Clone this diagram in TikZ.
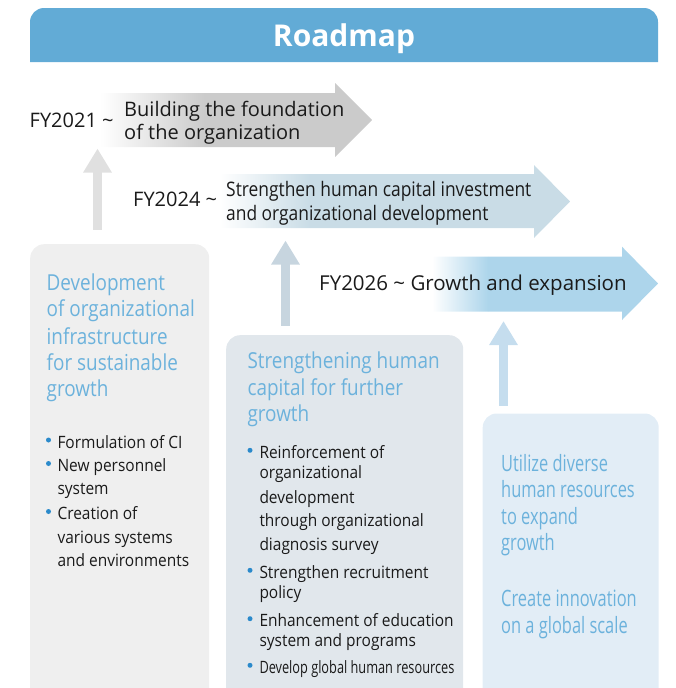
\documentclass[tikz,border=0pt]{standalone}
\usepackage{fontspec}
\usetikzlibrary{arrows.meta}
\setmainfont{Open Sans}
\newfontfamily\headfont{Open Sans}
\newfontfamily\titlefont{Open Sans}[FakeStretch=0.86]
\newfontfamily\bulfont{Open Sans}[FakeStretch=0.91]
\newfontfamily\narrowfont{Open Sans}[FakeStretch=0.75]
\newfontfamily\condfont{Open Sans}[FakeStretch=0.73]
\newfontfamily\arrnarrow{Open Sans}[FakeStretch=0.87]
\definecolor{headerblue}{HTML}{62ABD6}
\definecolor{titleblue}{HTML}{6CB2DC}
\definecolor{bulletblue}{HTML}{2B8ACB}
\definecolor{boxone}{HTML}{EFEFEF}
\definecolor{boxtwo}{HTML}{E1E7EC}
\definecolor{boxthree}{HTML}{E2EDF6}
\definecolor{arrone}{HTML}{CBCBCB}
\definecolor{arrtwo}{HTML}{C9DCE6}
\definecolor{arrthree}{HTML}{ADD5EB}
\definecolor{upone}{HTML}{E0E0E0}
\definecolor{uptwo}{HTML}{C7D5DF}
\definecolor{upthree}{HTML}{C5DDEE}
\definecolor{ink}{HTML}{1A1A1A}
\tikzset{
  box/.style={rounded corners=14pt, anchor=north west, inner sep=0pt, draw=none},
  arrtext/.style={anchor=base west, inner sep=0pt, text=ink, font=\fontsize{20}{24}\selectfont},
  arrtextn/.style={anchor=base west, inner sep=0pt, text=ink, font=\arrnarrow\fontsize{20}{24}\selectfont},
  ttl/.style={anchor=base west, inner sep=0pt, text=titleblue, font=\titlefont\fontsize{22}{26}\selectfont},
  cttl/.style={anchor=base west, inner sep=0pt, text=titleblue, font=\condfont\fontsize{22.5}{27}\selectfont},
  bul/.style={anchor=base west, inner sep=0pt, text=ink, font=\bulfont\fontsize{17}{23}\selectfont},
  dot/.style={circle, fill=bulletblue, inner sep=0pt, minimum size=5pt},
  uparrow/.style={line width=8.5pt, -{Triangle[width=27pt,length=24pt]}}
}
\begin{document}
\begin{tikzpicture}[x=1pt,y=-1pt]
\useasboundingbox (0,0) rectangle (675,688);
\clip (0,0) rectangle (675,688);
% header
\fill[headerblue] (30,62) [rounded corners=14pt] -- (30,8) -- (658,8) [sharp corners] -- (658,62) -- cycle;
\node[anchor=base, inner sep=0pt, text=white, font=\headfont\bfseries\fontsize{30}{36}\selectfont] (title) at (344,46.5) {Roadmap};
% roadmap arrow 1
\begin{scope}
\clip (100,93) -- (335,93) -- (335,83) -- (372,120) -- (335,157) -- (335,147) -- (100,147) -- cycle;
\shade[left color=white, right color=arrone] (100,83) rectangle (205,157);
\fill[arrone] (205,83) rectangle (373,157);
\end{scope}
% roadmap arrow 2
\begin{scope}
\clip (200,174) -- (534,174) -- (534,165) -- (570,201.5) -- (534,238) -- (534,228) -- (200,228) -- cycle;
\shade[left color=white, right color=arrtwo] (220,165) rectangle (310,238);
\fill[arrtwo] (310,165) rectangle (571,238);
\end{scope}
% roadmap arrow 3
\begin{scope}
\clip (420,256.7) -- (622,256.7) -- (622,246.7) -- (658,283.5) -- (622,320) -- (622,311.7) -- (420,311.7) -- cycle;
\shade[left color=white, right color=arrthree] (432,246) rectangle (488,321);
\fill[arrthree] (488,246) rectangle (659,321);
\end{scope}
% arrow labels
\node[arrtext] (fy1) at (29.5,127.3) {FY2021 \textasciitilde};
\node[arrtext] (a1l1) at (124,116.7) {Building the foundation};
\node[arrtext] (a1l2) at (124,139.3) {of the organization};
\node[arrtext] (fy2) at (133,206.7) {FY2024 \textasciitilde};
\node[arrtextn] (a2l1) at (226,196.7) {Strengthen human capital investment};
\node[arrtextn] (a2l2) at (226,220.7) {and organizational development};
\node[arrtext, font=\fontsize{20.5}{24}\selectfont] (a3) at (319,290) {FY2026 \textasciitilde{} Growth and expansion};
% boxes
\node[box, fill=boxone, minimum width=179pt, minimum height=480pt] (box1) at (30,244) {};
\node[box, fill=boxtwo, minimum width=237pt, minimum height=400pt] (box2) at (226,335) {};
\node[box, fill=boxthree, minimum width=176pt, minimum height=320pt] (box3) at (482.5,413.3) {};
% up arrows
\coordinate (u1b) at (97.5,230);
\coordinate (u1t) at (97.5,148.5);
\coordinate (u2b) at (285.5,325.5);
\coordinate (u2t) at (285.5,240.5);
\coordinate (u3b) at (503.5,405.7);
\coordinate (u3t) at (503.5,321);
\draw[uparrow, upone] (u1b) -- (u1t);
\draw[uparrow, uptwo] (u2b) -- (u2t);
\draw[uparrow, upthree] (u3b) -- (u3t);
% box 1 text
\foreach \t/\y [count=\i] in {Development/290.7, of organizational/316.7, infrastructure/344, for sustainable/370, growth/396.7}
  \node[ttl] (bAt\i) at (46.5,\y) {\t};
\foreach \t/\y [count=\i] in {Formulation of CI/448, New personnel/471.5, system/494.5, Creation of/519.5, various systems/543, and environments/566.5}
  \node[bul] (bAl\i) at (57.3,\y) {\t};
\foreach \y [count=\i] in {440,463.5,511.5}
  \node[dot] (bAd\i) at (48.5,\y) {};
% box 2 text
\foreach \t/\y [count=\i] in {Strengthening human/368.3, capital for further/395, growth/421.7}
  \node[ttl] (bBt\i) at (247.3,\y) {\t};
\foreach \t/\y [count=\i] in {Reinforcement of/458.3, organizational/478.3, development/503.3, through organizational/526.7, diagnosis survey/550, Strengthen recruitment/578.3, policy/598.3, Enhancement of education/626.7, system and programs/646.7}
  \node[bul] (bBl\i) at (259.3,\y) {\t};
\node[bul, font=\narrowfont\fontsize{17}{23}\selectfont] (bBl10) at (259.3,673.3) {Develop global human resources};
\foreach \y [count=\i] in {450.3,570.3,618.7,665.3}
  \node[dot] (bBd\i) at (250,\y) {};
% box 3 text
\foreach \t/\y [count=\i] in {Utilize diverse/471, human resources/497.7, to expand/524.3, growth/550, Create innovation/606.7, on a global scale/633.3}
  \node[cttl] (bCt\i) at (501,\y) {\t};
\end{tikzpicture}
\end{document}
